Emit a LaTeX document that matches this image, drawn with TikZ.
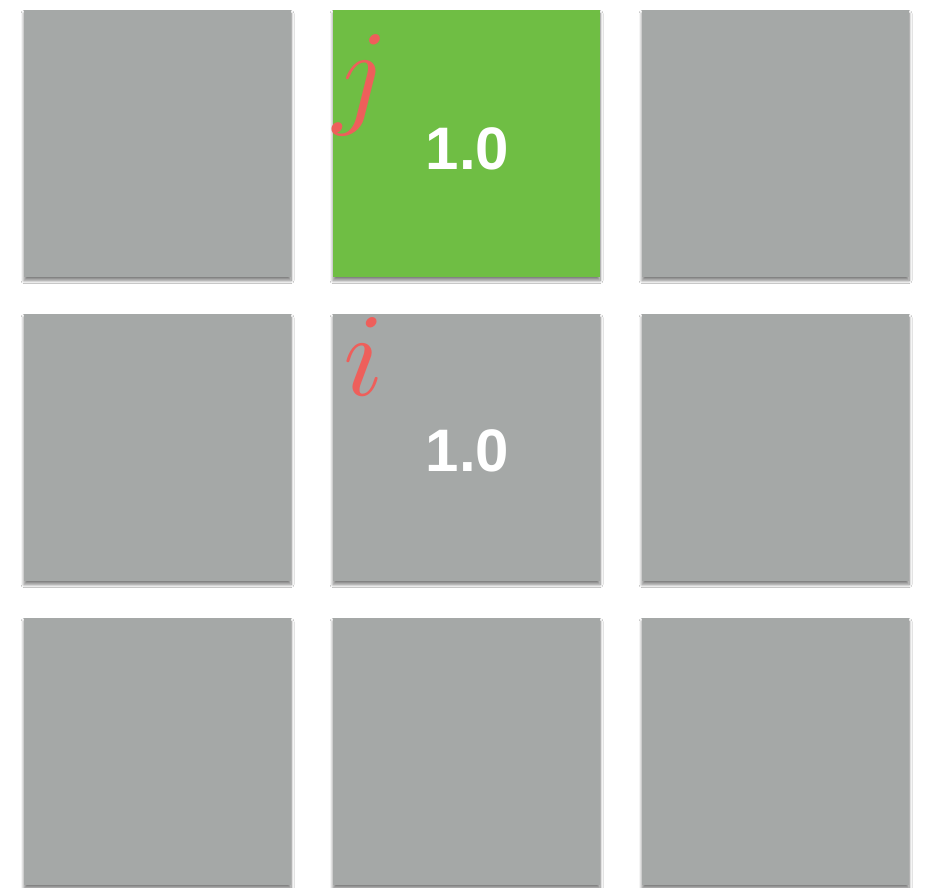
\documentclass[tikz,border=0pt]{standalone}
\usepackage{fontspec}
\usepackage{unicode-math}
\setmathfont{Latin Modern Math}
\newfontfamily\numfont{Liberation Sans}
\usetikzlibrary{shadows.blur}
\definecolor{cellgray}{HTML}{A5A8A7}
\definecolor{cellgreen}{HTML}{6FBE44}
\definecolor{labred}{HTML}{EE5F5B}
\tikzset{
  cell/.style={rectangle, fill=cellgray, draw=none, minimum size=267pt, inner sep=0pt,
    blur shadow={shadow xshift=0pt, shadow yshift=-3.5pt, shadow blur radius=3pt, shadow opacity=50, shadow blur steps=8}},
  hot/.style={cell, fill=cellgreen},
  val/.style={text=white, font=\numfont\bfseries\fontsize{60}{60}\selectfont, inner sep=0pt},
  idx/.style={text=labred, font=\fontsize{118}{118}\selectfont, inner sep=0pt, anchor=base}
}
\begin{document}
\begin{tikzpicture}[x=1pt,y=-1pt]
\path[use as bounding box, fill=white] (0,0) rectangle (926,888);
\node[cell] (c11) at (157.5,143.5) {};
\node[hot]  (c12) at (466.5,143.5) {};
\node[cell] (c13) at (775.5,143.5) {};
\node[cell] (c21) at (157.5,447.5) {};
\node[cell] (c22) at (466.5,447.5) {};
\node[cell] (c23) at (775.5,447.5) {};
\node[cell] (c31) at (157.5,751.5) {};
\node[cell] (c32) at (466.5,751.5) {};
\node[cell] (c33) at (775.5,751.5) {};
\node[val] (v1) at (467.5,148.5) {1.0};
\node[val] (v2) at (467.5,450.5) {1.0};
\node[idx] (lj) at (359,113) {$j$};
\node[idx] (li) at (364,395) {$i$};
\end{tikzpicture}
\end{document}
